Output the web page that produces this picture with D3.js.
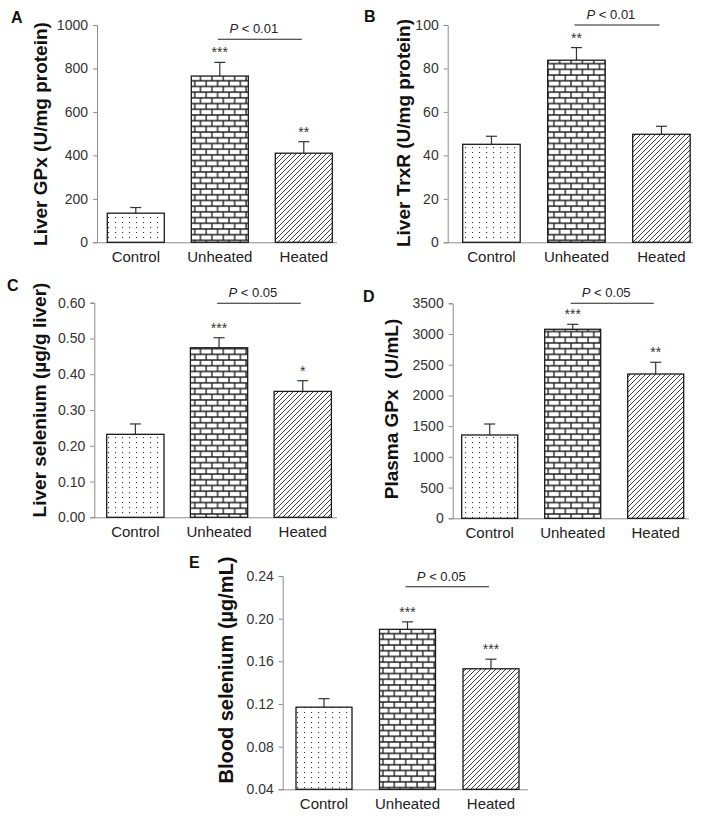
<!DOCTYPE html>
<html>
<head>
<meta charset="utf-8">
<script src="https://cdn.jsdelivr.net/npm/d3@7"></script>
<style>
  html, body { margin: 0; padding: 0; background: #fff; }
  svg { display: block; }
</style>
</head>
<body>
<svg id="chart" width="716" height="818"></svg>
<script>
// ---------- DATA ----------
const categories = ["Control", "Unheated", "Heated"];

const liverGPx      = [134, 765, 410];
const liverGPxErr   = [26, 63, 53];
const liverTrxR     = [45.1, 83.8, 49.7];
const liverTrxRErr  = [3.7, 5.8, 3.7];
const liverSe       = [0.232, 0.474, 0.352];
const liverSeErr    = [0.029, 0.028, 0.030];
const plasmaGPx     = [1356, 3077, 2349];
const plasmaGPxErr  = [179, 81, 191];
const bloodSe       = [0.117, 0.190, 0.153];
const bloodSeErr    = [0.008, 0.007, 0.009];

const starsA = ["", "***", "**"];
const starsB = ["", "**", ""];
const starsC = ["", "***", "*"];
const starsD = ["", "***", "**"];
const starsE = ["", "***", "***"];

const pLabels = ["0.01", "0.01", "0.05", "0.05", "0.05"];
const panelLetters = ["A", "B", "C", "D", "E"];
const yLabels = [
  "Liver GPx (U/mg protein)",
  "Liver TrxR (U/mg protein)",
  "Liver selenium (\u00b5g/g liver)",
  "Plasma GPx  (U/mL)",
  "Blood selenium (\u00b5g/mL)"
];
const ticksA = [0, 200, 400, 600, 800, 1000];
const ticksB = [0, 20, 40, 60, 80, 100];
const ticksC = [0, 0.1, 0.2, 0.3, 0.4, 0.5, 0.6];
const ticksD = [0, 500, 1000, 1500, 2000, 2500, 3000, 3500];
const ticksE = [0.04, 0.08, 0.12, 0.16, 0.20, 0.24];

// ---------- LAYOUT ----------
const layout = [
  {lx: 11,  ly: 23,  ax: 97,    end: 337, top: 25,    bot: 242.3, b0: 107.3, step: 84,   bw: 57,   labX: 46.6,  labY: 134, labSize: 19, pY: 39.3,  fmt: "d"},
  {lx: 364, ly: 22,  ax: 447.7, end: 693, top: 25,    bot: 242.3, b0: 462.7, step: 85,   bw: 57.5, labX: 409.6, labY: 133, labSize: 19, pY: 25,    fmt: "d"},
  {lx: 7,   ly: 291, ax: 94.3,  end: 337, top: 302.7, bot: 517.3, b0: 106.7, step: 83.7, bw: 57.3, labX: 46,    labY: 400, labSize: 19, pY: 303.3, fmt: ".2f"},
  {lx: 363, ly: 301.5, ax: 452.7, end: 689, top: 303.3, bot: 518.3, b0: 461.7, step: 83, bw: 56, labX: 397.6, labY: 409, labSize: 19, pY: 303.3, fmt: "d"},
  {lx: 189, ly: 568, ax: 282.7, end: 528, top: 576,   bot: 789.3, b0: 296,   step: 83.5, bw: 56,   labX: 233.4, labY: 670, labSize: 20, pY: 586.7, fmt: ".2f"}
];

const panels = [
  {values: liverGPx,  errs: liverGPxErr,  stars: starsA, ticks: ticksA, domain: [0, 1000]},
  {values: liverTrxR, errs: liverTrxRErr, stars: starsB, ticks: ticksB, domain: [0, 100]},
  {values: liverSe,   errs: liverSeErr,   stars: starsC, ticks: ticksC, domain: [0, 0.6]},
  {values: plasmaGPx, errs: plasmaGPxErr, stars: starsD, ticks: ticksD, domain: [0, 3500]},
  {values: bloodSe,   errs: bloodSeErr,   stars: starsE, ticks: ticksE, domain: [0.04, 0.24]}
];

const FONT = "'Liberation Sans', Arial, Helvetica, sans-serif";
const svg = d3.select("#chart");

// ---------- PATTERNS ----------
const defs = svg.append("defs");
const dots = defs.append("pattern").attr("id", "dots")
  .attr("patternUnits", "userSpaceOnUse").attr("width", 7).attr("height", 5);
dots.append("rect").attr("width", 7).attr("height", 5).attr("fill", "#fff");
dots.append("rect").attr("x", 3).attr("y", 2).attr("width", 1.1).attr("height", 1.1).attr("fill", "#333");

const brick = defs.append("pattern").attr("id", "brick")
  .attr("patternUnits", "userSpaceOnUse").attr("width", 11.4).attr("height", 11.4);
brick.append("rect").attr("width", 11.4).attr("height", 11.4).attr("fill", "#fff");
brick.append("path")
  .attr("d", "M0,1H11.4M0,6.7H11.4M1,1V6.7M6.7,6.7V11.4M6.7,0V1")
  .attr("stroke", "#1a1a1a").attr("stroke-width", 1.3).attr("fill", "none");

const hatch = defs.append("pattern").attr("id", "hatch")
  .attr("patternUnits", "userSpaceOnUse").attr("width", 5).attr("height", 5);
hatch.append("rect").attr("width", 5).attr("height", 5).attr("fill", "#fff");
hatch.append("path")
  .attr("d", "M0,5L5,0M-1,1L1,-1M4,6L6,4")
  .attr("stroke", "#2a2a2a").attr("stroke-width", 0.9).attr("fill", "none");

const fills = ["url(#dots)", "url(#brick)", "url(#hatch)"];

// ---------- DRAW ----------
panels.forEach((p, i) => {
  const L = layout[i];
  const g = svg.append("g");

  const y = d3.scaleLinear().domain(p.domain).range([L.bot, L.top]);
  const x = d3.scaleBand().domain(categories)
    .range([L.b0, L.b0 + 3 * L.step - (L.step - L.bw)])
    .paddingInner((L.step - L.bw) / L.step).paddingOuter(0);

  // y axis
  const yAxis = d3.axisLeft(y).tickValues(p.ticks).tickSize(4).tickPadding(5)
    .tickFormat(d3.format(L.fmt));
  const ya = g.append("g").attr("transform", `translate(${L.ax},0)`).call(yAxis);
  ya.select(".domain").attr("stroke", "#8c8c8c").attr("stroke-width", 1);
  ya.selectAll(".tick line").attr("stroke", "#8c8c8c");
  ya.selectAll(".tick text").attr("fill", "#333").style("font-family", FONT).style("font-size", "14px");

  // x axis (line only + labels)
  const xa = g.append("g").attr("transform", `translate(0,${L.bot})`)
    .call(d3.axisBottom(x).tickSize(0).tickPadding(9));
  xa.select(".domain").attr("d", `M${L.ax},0.5H${L.end}`).attr("stroke", "#8c8c8c");
  xa.selectAll(".tick text").attr("fill", "#222").style("font-family", FONT).style("font-size", "15px");

  // error bars
  const eb = g.selectAll(".err").data(categories).enter().append("g");
  eb.append("line")
    .attr("x1", d => x(d) + x.bandwidth() / 2).attr("x2", d => x(d) + x.bandwidth() / 2)
    .attr("y1", (d, k) => y(p.values[k])).attr("y2", (d, k) => y(p.values[k] + p.errs[k]))
    .attr("stroke", "#333").attr("stroke-width", 1.2);
  eb.append("line")
    .attr("x1", d => x(d) + x.bandwidth() / 2 - 5.5).attr("x2", d => x(d) + x.bandwidth() / 2 + 5.5)
    .attr("y1", (d, k) => y(p.values[k] + p.errs[k])).attr("y2", (d, k) => y(p.values[k] + p.errs[k]))
    .attr("stroke", "#333").attr("stroke-width", 1.2);

  // bars
  g.selectAll(".bar").data(categories).enter().append("rect")
    .attr("x", d => x(d)).attr("width", x.bandwidth())
    .attr("y", (d, k) => y(p.values[k]))
    .attr("height", (d, k) => y(p.domain[0]) - y(p.values[k]))
    .attr("fill", (d, k) => fills[k])
    .attr("stroke", "#1a1a1a").attr("stroke-width", 1.3);

  // stars
  g.selectAll(".star").data(categories).enter().append("text")
    .attr("x", d => x(d) + x.bandwidth() / 2)
    .attr("y", (d, k) => y(p.values[k] + p.errs[k]) - 5)
    .attr("text-anchor", "middle")
    .style("font-family", FONT).style("font-size", "14px").attr("fill", "#333")
    .text((d, k) => p.stars[k]);

  // significance bracket
  const xu = x(categories[1]) + x.bandwidth() / 2;
  const xh = x(categories[2]) + x.bandwidth() / 2;
  g.append("line").attr("x1", xu - 2).attr("x2", xh - 2)
    .attr("y1", L.pY).attr("y2", L.pY).attr("stroke", "#222").attr("stroke-width", 1.1);
  const pt = g.append("text")
    .attr("x", (xu + xh) / 2 - 8).attr("y", L.pY - 6)
    .attr("text-anchor", "middle")
    .style("font-family", FONT).style("font-size", "13px").attr("fill", "#222");
  pt.append("tspan").style("font-style", "italic").text("P");
  pt.append("tspan").text(" < " + pLabels[i]);

  // y label
  g.append("text")
    .attr("transform", `translate(${L.labX},${L.labY}) rotate(-90)`)
    .attr("text-anchor", "middle")
    .style("font-family", FONT).style("font-weight", "bold")
    .style("font-size", L.labSize + "px").style("white-space", "pre")
    .attr("fill", "#111")
    .text(yLabels[i]);

  // panel letter
  g.append("text").attr("x", L.lx).attr("y", L.ly)
    .style("font-family", FONT).style("font-weight", "bold").style("font-size", "16px")
    .attr("fill", "#111").text(panelLetters[i]);
});
</script>
</body>
</html>
